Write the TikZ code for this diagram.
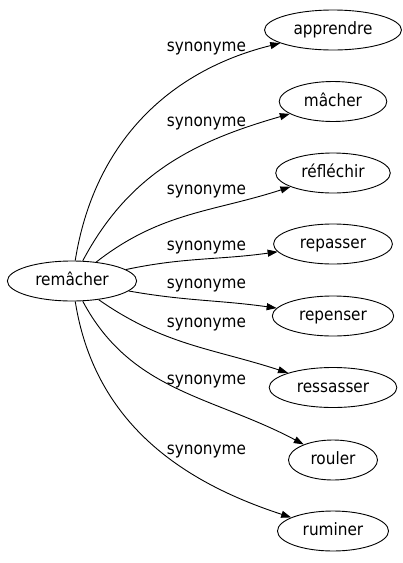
\documentclass[tikz,border=0pt]{standalone}
\usepackage{fontspec}
\IfFontExistsTF{DejaVu Sans Condensed}{\setmainfont{DejaVu Sans Condensed}}{\setmainfont{DejaVu Sans}}
\usetikzlibrary{arrows.meta,shapes.geometric}
\begin{document}
\begin{tikzpicture}[x=1pt,y=-1pt,
  word/.style={ellipse,draw,line width=0.9pt,font=\fontsize{17}{20}\selectfont,
    inner xsep=9pt,inner ysep=2pt,minimum height=40pt,text height=12.5pt,text depth=3.5pt},
  lab/.style={font=\fontsize{17}{20}\selectfont,inner sep=0pt,text height=12.5pt,text depth=3.5pt},
  syn/.style={line width=0.9pt,-{Triangle[length=10pt,width=7pt]}}]
\useasboundingbox (0,0) rectangle (403,563);
\node[word] (c) at (72,281) {remâcher};
\node[word] (n1) at (333,30) {apprendre};
\node[word] (n2) at (333,101.5) {mâcher};
\node[word] (n3) at (333,173) {réfléchir};
\node[word] (n4) at (333,244) {repasser};
\node[word] (n5) at (333,316) {repenser};
\node[word] (n6) at (333,387.5) {ressasser};
\node[word] (n7) at (333,460) {rouler};
\node[word] (n8) at (333,531) {ruminer};
\node[lab] (l1) at (206.5,47) {synonyme};
\node[lab] (l2) at (206.5,122) {synonyme};
\node[lab] (l3) at (206.5,190) {synonyme};
\node[lab] (l4) at (206.5,246) {synonyme};
\node[lab] (l5) at (206.5,284) {synonyme};
\node[lab] (l6) at (206.5,323) {synonyme};
\node[lab] (l7) at (206.5,380) {synonyme};
\node[lab] (l8) at (206.5,450) {synonyme};
\draw[syn] (c) to[out=81,in=194] (n1);
\draw[syn] (c) to[out=62,in=196] (n2);
\draw[syn] (c) to[out=38,in=198] (n3);
\draw[syn] (c) to[out=12,in=188] (n4);
\draw[syn] (c) to[out=-10,in=172] (n5);
\draw[syn] (c) to[out=-35,in=162] (n6);
\draw[syn] (c) to[out=-62,in=152] (n7);
\draw[syn] (c) to[out=-81,in=162] (n8);
\end{tikzpicture}
\end{document}
